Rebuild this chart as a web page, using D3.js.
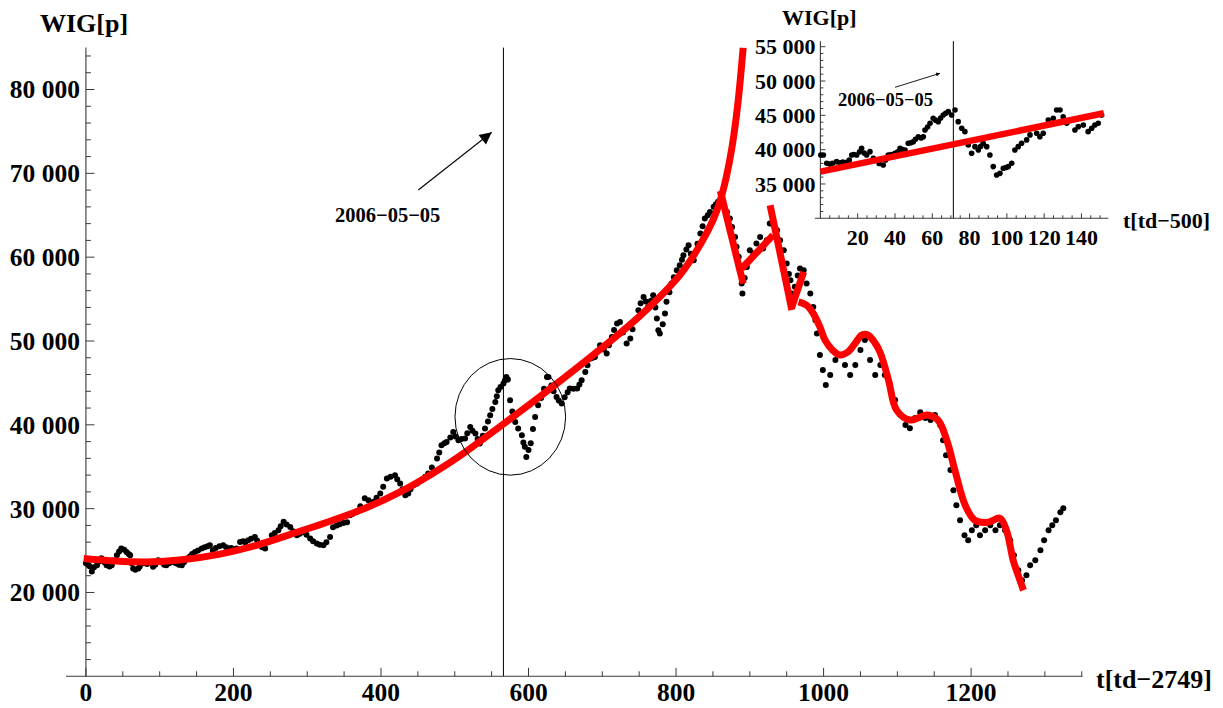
<!DOCTYPE html>
<html><head><meta charset="utf-8">
<script src="https://cdn.jsdelivr.net/npm/d3@7"></script>
<style>
body{margin:0;background:#fff;}
svg text{font-family:"Liberation Serif","Times New Roman",serif;font-weight:bold;fill:#000;}
</style></head>
<body><svg id="c" width="1223" height="708"></svg>
<script>
// ---------- main series (t[td-2749], WIG) ----------
const mainT = [0,3,5,8,11,15,18,21,25,28,32,35,38,42,45,48,52,55,58,60,62,64,67,71,73,75,79,83,87,91,94,98,102,106,109,113,118,122,126,130,133,137,141,144,148,152,157,161,165,168,172,176,181,186,190,193,197,201,204,209,213,216,220,224,229,232,236,239,243,247,252,256,261,264,268,272,277,281,286,290,295,299,304,308,313,317,322,326,331,
335,340,344,349,354,358,362,367,372,378,383,390,394,399,403,408,413,419,422,426,429,433,437,440,444,449,455,460,464,469,476,479,482,486,489,494,498,501,505,509,514,517,521,524,528,531,534,538,541,545,548,551,555,557,559,562,566,568,570,572,575,578,582,586,591,593,595,597,600,603,606,609,613,617,621,625,627,631,634,638,641,645,649,653,656,661,666,669,672,677,680,684,687,690,694,697,702,706,709,713,716,720,724,728,733,738,741,744,749,752,756,759,762,766,769,772,774,776,778,782,785,787,791,794,797,801,805,808,810,814,817,820,824,826,829,833,836,839,843,846,851,854,857,861,864,869,873,876,880,882,885,887,889,890,893,896,900,905,909,914,918,923,927,932,937,941,946,950,953,955,957,961,965,968,973,977,982,986,989,991,
995,999,1003,1009,1016,1022,1029,1036,1043,1050,1056,1063,1070,1077,1083,1090,1097,1104,1111,1117,1124,1131,1138,1145,1151,1158,1162,1166,1172,1176,1180,1185,1191,1196,1201,1207,1212,1219,1226,1233,1239,1246,1253,1258,1264,1269,1275,1280,1287,1294,1299,1305,1310,1315,1321,1325];
const mainV = [23500,23300,23137,22500,23000,23257,23700,24092,23600,23257,23100,23257,23800,24450,24900,25249,25100,24843,24600,24450,23500,22863,22700,22863,23100,23459,23500,23400,23650,23054,23300,23853,23600,23300,23257,23500,23650,23500,23300,23257,23600,24056,24300,24600,24843,25000,25249,25400,25500,25642,25046,25300,25500,25642,25400,25249,25300,25100,25249,26036,26100,26000,26239,26400,26632,26200,25642,25400,25249,26000,26835,27100,27432,27900,28422,28100,27825,27300,26835,27000,27229,26900,26442,26100,25845,25700,25642,26000,26632,
27790,28000,28148,28300,28386,29221,29400,29615,30300,31249,31000,30808,31300,31809,32600,33599,33800,33993,33500,33003,32300,31607,31800,32300,32800,33000,33396,33800,34195,34900,35985,36700,37571,37800,37965,38500,39158,38600,38168,38300,38371,39000,39754,39300,38967,38300,37774,38700,39564,40400,41150,41900,42737,43400,44133,44500,44932,45300,45719,45400,42940,41600,40351,39564,38764,37900,37369,36176,37000,37800,39500,40947,42343,43200,44300,45719,45719,44700,44000,43333,42900,42546,43300,43900,44336,44300,44336,44800,45325,46316,47100,47914,48000,48105,48800,49500,49000,48510,49500,50490,51300,52090,52280,51000,49700,50300,51400,52480,53675,54500,55260,54700,54070,54800,55465,54000,52685,51290,50900,52000,53280,54670,55800,56860,57600,58450,59045,59700,60236,60900,61430,60400,59640,60440,61600,62820,63700,64610,65000,65400,66000,66300,66600,66400,66200,65400,64610,63610,62420,61230,60040,58450,56860,55670,57500,58840,60830,60440,61630,62420,61030,62030,64020,63810,63220,62030,60830,59250,58000,57250,55670,56460,57800,58650,58450,56860,55670,54070,52480,50900,
48330,46540,44750,45950,47740,48330,47140,45950,47140,48930,50120,47740,45950,47140,45950,44750,42960,41170,39980,39600,40800,41500,40800,40570,41170,39980,38170,36380,34600,32200,30410,28620,26830,26230,27420,28030,26830,27420,28030,27420,28030,27420,26230,24450,22660,21470,22060,23250,23850,25040,26230,27430,28030,28620,29580,30050];

// ---------- fitted curves (main) ----------
const fit1T = [-3,40,83,130,180,230,290,331,380,426,470,507,566,616,690,751,805,828,850,860,868,876,884,891];
const fit1V = [24050,23750,23650,23900,24550,25600,27300,28500,30100,32000,34200,36300,40100,43400,48500,53000,57850,60800,64400,66800,69500,73200,78500,85000];
const fit2T = [860,891], fit2V = [67900,56850];
const fit3T = [889,931.5], fit3V = [58650,62620];
const fit4T = [927.5,957], fit4V = [66200,53700];
const fit5T = [957,973], fit5V = [54070,58250];
const fit6T = [966,977,986,995,1002,1012,1022,1033,1043,1052,1060,1069,1077,1088,1099,1117,1130,1140,1155,1167,1178,1192,1205,1223,1239,1248,1257,1264,1271];
const fit6V = [54670,54270,53280,51680,50100,48930,48330,48690,49760,50710,50710,49860,48570,45350,41750,40570,40900,41170,40570,38180,34600,30410,28620,28380,28860,27400,23850,22000,20270];

// ---------- inset series (t[td-500], WIG) ----------
const insetT = [0.2,1.6,3.4,5,6.5,8.7,10.5,12,14.1,15.5,16.8,18,19.5,21,22.1,23.5,24.8,26.6,28.4,30,31.5,33.7,35,36.4,38,40,41.5,42.7,44,45.4,47.1,48.5,49.8,51,52.5,54,55.2,56.1,57.5,58.8,60.5,61.8,63.2,64.5,65.9,67.2,68.6,70.4,72.2,73.9,75.8,77.5,79.3,81.1,82.9,84.7,86,87.3,89.2,90.9,92.7,94.5,96.3,98.1,99.5,100.8,102.6,104.3,106.1,107.9,110.6,112.4,114.2,116,117.7,119.5,122.2,124.9,126.7,128.5,130.2,132.1,134.7,136.5,138.3,141,143.6,145.5,147.2,149,150.8];
const insetV = [39225,39225,38010,37900,38010,38250,38100,38200,38160,38500,39225,39300,39225,39700,40200,39500,39225,39710,38740,38500,38000,37770,38500,39225,39300,39470,39700,40200,40000,39950,40930,41000,41160,41500,41890,41700,41890,42870,43300,43840,44570,44300,44080,44600,45050,45300,45540,45050,45780,44080,43110,42620,40680,39470,40440,39950,40500,40930,40440,39225,37530,36310,36550,37290,37400,37530,38010,39950,40440,40930,41420,42150,43110,42380,41890,42380,44320,44570,45780,45780,44800,43840,44320,42870,43350,43590,42620,43110,43590,43840,45050];
const insetFitT = [0,152], insetFitV = [36800,45300];

// ---------- ticks / labels ----------
const mainXTicks = [0,200,400,600,800,1000,1200];
const mainYTicks = [20000,30000,40000,50000,60000,70000,80000];
const insetXTicks = [20,40,60,80,100,120,140];
const insetYTicks = [35000,40000,45000,50000,55000];
const markDate = "2006\u221205\u221205";
const mainMarkT = 566, insetMarkT = 71.3;

const svg = d3.select("#c");
const fmt = v => d3.format(",")(v).replace(/,/g," ");
const axisCol = "#3a3a3a";

function drawAxes(g, x, y, xTicks, xMinor, yTicks, yMinor, o) {
  const [x0,x1] = x.range(), yb = y.range()[0], yt = y.range()[1];
  const ox = x(0);
  g.append("line").attr("x1",x0).attr("x2",x1).attr("y1",yb).attr("y2",yb).attr("stroke",axisCol).attr("stroke-width",1.1);
  g.append("line").attr("x1",ox).attr("x2",ox).attr("y1",yb).attr("y2",yt).attr("stroke",axisCol).attr("stroke-width",1.1);
  xMinor.forEach(t=>g.append("line").attr("x1",x(t)).attr("x2",x(t)).attr("y1",yb).attr("y2",yb-o.minor).attr("stroke",axisCol));
  xTicks.forEach(t=>g.append("line").attr("x1",x(t)).attr("x2",x(t)).attr("y1",yb).attr("y2",yb-o.major).attr("stroke",axisCol));
  yMinor.forEach(v=>g.append("line").attr("x1",ox).attr("x2",ox+o.minor).attr("y1",y(v)).attr("y2",y(v)).attr("stroke",axisCol));
  yTicks.forEach(v=>g.append("line").attr("x1",ox).attr("x2",ox+o.major).attr("y1",y(v)).attr("y2",y(v)).attr("stroke",axisCol));
  xTicks.forEach(t=>g.append("text").attr("x",x(t)).attr("y",o.xLabY).attr("text-anchor","middle").style("font-size",o.fs+"px").text(t));
  yTicks.forEach(v=>g.append("text").attr("x",ox-o.yLabGap).attr("y",y(v)).attr("dy","0.35em").attr("text-anchor","end").style("font-size",o.fs+"px").text(fmt(v)));
}

// ===== MAIN =====
const x = d3.scaleLinear().domain([-27,1351]).range([66,1082.5]);
const y = d3.scaleLinear().domain([10000,85000]).range([676.3,47.6]);
const gm = svg.append("g");
const defs = svg.append("defs");
defs.append("clipPath").attr("id","clipM").append("rect").attr("x",60).attr("y",47.6).attr("width",1030).attr("height",640);

gm.append("line").attr("x1",x(mainMarkT)).attr("x2",x(mainMarkT)).attr("y1",y(85000)).attr("y2",y(10000)).attr("stroke","#000").attr("stroke-width",1);

drawAxes(gm, x, y, mainXTicks, d3.range(0,1351,50).filter(t=>t%200!==0), mainYTicks, d3.range(12000,85001,2000).filter(v=>v%10000!==0),
  {major:8.5, minor:5, fs:25.5, xLabY:701, yLabGap:6});

gm.append("g").selectAll("circle").data(mainT.map((t,i)=>[t,mainV[i]])).join("circle")
  .attr("cx",d=>x(d[0])).attr("cy",d=>y(d[1])).attr("r",3).attr("fill","#000");

const lineM = d3.line().x(d=>x(d[0])).y(d=>y(d[1])).curve(d3.curveCatmullRom.alpha(0.5));
const redG = gm.append("g").attr("clip-path","url(#clipM)");
[[fit1T,fit1V],[fit2T,fit2V],[fit3T,fit3V],[fit4T,fit4V],[fit5T,fit5V],[fit6T,fit6V]].forEach(([T,V])=>{
  redG.append("path").attr("d",lineM(T.map((t,i)=>[t,V[i]]))).attr("fill","none").attr("stroke","#ff0000").attr("stroke-width",7);
});

// circle annotation
const cT = 575.3, cV = 40950, rT = 75, rV = 6955;
gm.append("ellipse").attr("cx",x(cT)).attr("cy",y(cV)).attr("rx",x(cT+rT)-x(cT)).attr("ry",y(cV)-y(cV+rV))
  .attr("fill","none").attr("stroke","#000").attr("stroke-width",1);

// arrows
defs.append("marker").attr("id","ah").attr("viewBox","0 0 10 10").attr("refX",10).attr("refY",5)
  .attr("markerWidth",17).attr("markerHeight",12).attr("markerUnits","userSpaceOnUse").attr("orient","auto")
  .append("path").attr("d","M0,0 L10,5 L0,10 Z").attr("fill","#000");
defs.append("marker").attr("id","ah2").attr("viewBox","0 0 10 10").attr("refX",10).attr("refY",5)
  .attr("markerWidth",7).attr("markerHeight",4).attr("markerUnits","userSpaceOnUse").attr("orient","auto")
  .append("path").attr("d","M0,0 L10,5 L0,10 Z").attr("fill","#000");
gm.append("line").attr("x1",418.3).attr("y1",190).attr("x2",491.7).attr("y2",132.3).attr("stroke","#000").attr("stroke-width",1.1).attr("marker-end","url(#ah)");
gm.append("text").attr("x",335).attr("y",221.5).style("font-size","20.5px").text(markDate);

gm.append("text").attr("x",40).attr("y",32).style("font-size","26px").text("WIG[p]");
gm.append("text").attr("x",1096).attr("y",688).style("font-size","26px").text("t[td\u22122749]");

// ===== INSET =====
const xi = d3.scaleLinear().domain([-3,154.4]).range([814.8,1108.3]);
const yi = d3.scaleLinear().domain([30000,55800]).range([218.3,41.2]);
const gi = svg.append("g");
gi.append("line").attr("x1",xi(insetMarkT)).attr("x2",xi(insetMarkT)).attr("y1",yi(55800)).attr("y2",yi(30000)).attr("stroke","#000").attr("stroke-width",1);
drawAxes(gi, xi, yi, insetXTicks, d3.range(5,155,5).filter(t=>t%20!==0), insetYTicks, d3.range(31000,55801,1000).filter(v=>v%5000!==0),
  {major:5, minor:3, fs:22, xLabY:245, yLabGap:5});
gi.append("g").selectAll("circle").data(insetT.map((t,i)=>[t,insetV[i]])).join("circle")
  .attr("cx",d=>xi(d[0])).attr("cy",d=>yi(d[1])).attr("r",2.8).attr("fill","#000");
gi.append("path").attr("d",d3.line().x(d=>xi(d[0])).y(d=>yi(d[1]))(insetFitT.map((t,i)=>[t,insetFitV[i]])))
  .attr("stroke","#ff0000").attr("stroke-width",6.5).attr("fill","none");
gi.append("line").attr("x1",895).attr("y1",87.3).attr("x2",940).attr("y2",73.3).attr("stroke","#000").attr("stroke-width",0.9).attr("marker-end","url(#ah2)");
gi.append("text").attr("x",838).attr("y",106).style("font-size","18.5px").text(markDate);
gi.append("text").attr("x",782).attr("y",25).style("font-size","22px").text("WIG[p]");
gi.append("text").attr("x",1123).attr("y",228).style("font-size","22px").text("t[td\u2212500]");
</script></body></html>
